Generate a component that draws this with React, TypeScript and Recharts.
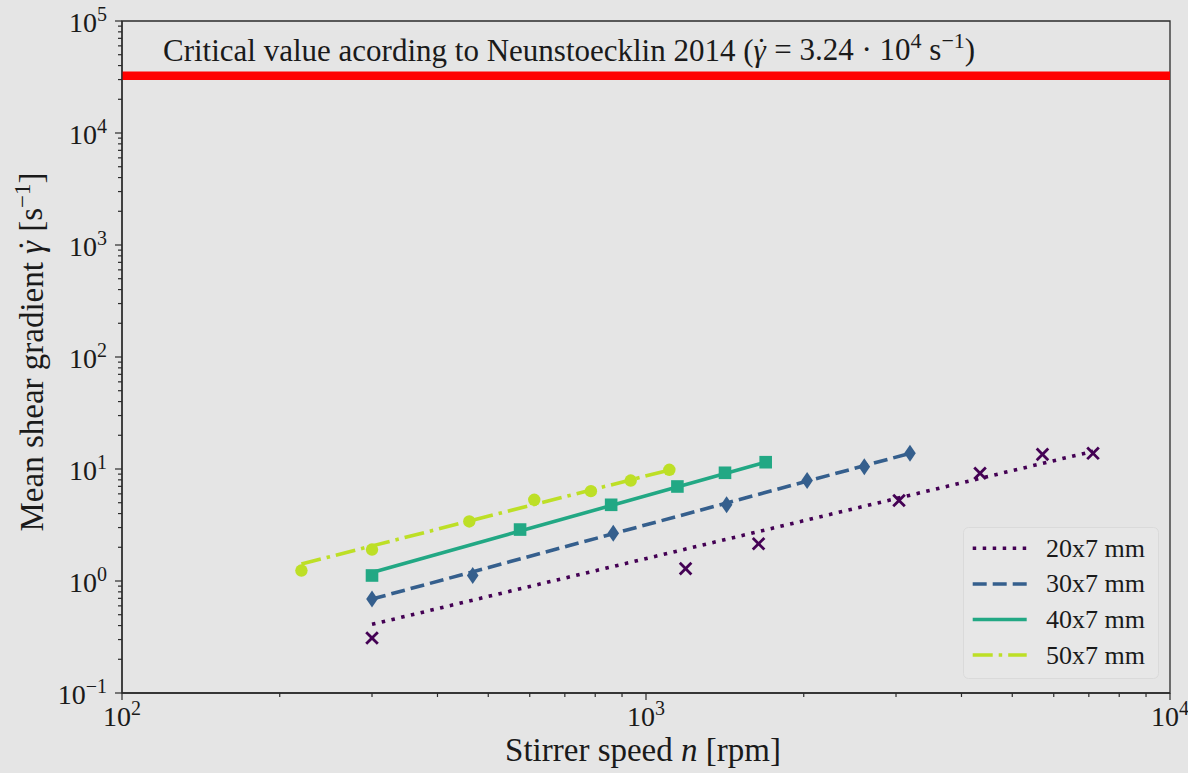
import React from 'react';
import {
  ComposedChart,
  Line,
  Scatter,
  XAxis,
  YAxis,
  ReferenceLine,
  ReferenceArea,
} from 'recharts';

// ---- data ----
const speed20 = [300, 1190, 1640, 3040, 4340, 5710, 7130];
const shear20 = [0.31, 1.29, 2.15, 5.23, 9.17, 13.5, 13.8];
const fitSpeed20 = [300, 7130];
const fitShear20 = [0.41, 14.4];

const speed30 = [300, 467, 866, 1425, 2030, 2610, 3190];
const shear30 = [0.69, 1.12, 2.67, 4.79, 7.89, 10.5, 13.8];
const fitSpeed30 = [300, 3190];
const fitShear30 = [0.69, 13.8];

const speed40 = [300, 575, 858, 1148, 1415, 1692];
const shear40 = [1.12, 2.88, 4.79, 6.98, 9.25, 11.5];
const fitSpeed40 = [300, 1692];
const fitShear40 = [1.19, 11.5];

const speed50 = [220, 300, 460, 612, 785, 935, 1108];
const shear50 = [1.24, 1.91, 3.4, 5.31, 6.34, 7.89, 9.84];
const fitSpeed50 = [220, 1108];
const fitShear50 = [1.42, 9.8];

const criticalShear = 32400;

const seriesNames = ['20x7 mm', '30x7 mm', '40x7 mm', '50x7 mm'];
const seriesColors = ['#440154', '#355f8d', '#22a884', '#bddf26'];

const xTicks = [
  100, 200, 300, 400, 500, 600, 700, 800, 900,
  1000, 2000, 3000, 4000, 5000, 6000, 7000, 8000, 9000, 10000,
];
const yTicks = [
  0.1, 0.2, 0.3, 0.4, 0.5, 0.6, 0.7, 0.8, 0.9,
  1, 2, 3, 4, 5, 6, 7, 8, 9,
  10, 20, 30, 40, 50, 60, 70, 80, 90,
  100, 200, 300, 400, 500, 600, 700, 800, 900,
  1000, 2000, 3000, 4000, 5000, 6000, 7000, 8000, 9000,
  10000, 20000, 30000, 40000, 50000, 60000, 70000, 80000, 90000,
  100000,
];

const zip = (xs: number[], ys: number[]) => xs.map((x, i) => ({ x, y: ys[i] }));

const FONT = '"Liberation Serif", "DejaVu Serif", serif';
const AXIS = '#2b2b2b';
const TXT = '#1a1a1a';
const dashes = ['3.5 6.5', '14 6', undefined, '20 6 3.5 6'];

const expOf = (v: number) => {
  const l = Math.log10(v);
  const e = Math.round(l);
  return { e, major: Math.abs(l - e) < 1e-9 };
};
const expText = (e: number) => (e < 0 ? '\u2212' + Math.abs(e) : String(e));

const TICK_FS = 28;
const SUP_FS = 20;

const XTick = (props: any) => {
  const { x, y, payload } = props;
  const { e, major } = expOf(payload.value);
  return (
    <g>
      <line x1={x} x2={x} y1={y} y2={y + (major ? 7 : 4)} stroke={AXIS} strokeWidth={1.2} />
      {major && (
        <text x={x} y={y + 33} textAnchor="middle" fontFamily={FONT} fontSize={TICK_FS} fill={TXT}>
          10
          <tspan dy={-11} fontSize={SUP_FS}>{expText(e)}</tspan>
        </text>
      )}
    </g>
  );
};

const YTick = (props: any) => {
  const { x, y, payload } = props;
  const { e, major } = expOf(payload.value);
  return (
    <g>
      <line x1={x} x2={x - (major ? 7 : 4)} y1={y} y2={y} stroke={AXIS} strokeWidth={1.2} />
      {major && (
        <text x={x - 15} y={y + 11} textAnchor="end" fontFamily={FONT} fontSize={TICK_FS} fill={TXT}>
          10
          <tspan dy={-11} fontSize={SUP_FS}>{expText(e)}</tspan>
        </text>
      )}
    </g>
  );
};

const XMark = (p: any) => (
  <g stroke={seriesColors[0]} strokeWidth={2.8}>
    <line x1={p.cx - 5.8} y1={p.cy - 5.8} x2={p.cx + 5.8} y2={p.cy + 5.8} />
    <line x1={p.cx - 5.8} y1={p.cy + 5.8} x2={p.cx + 5.8} y2={p.cy - 5.8} />
  </g>
);
const Diamond = (p: any) => (
  <polygon
    points={`${p.cx},${p.cy - 8.5} ${p.cx + 5.8},${p.cy} ${p.cx},${p.cy + 8.5} ${p.cx - 5.8},${p.cy}`}
    fill={seriesColors[1]}
  />
);
const Square = (p: any) => (
  <rect x={p.cx - 6.3} y={p.cy - 6.3} width={12.6} height={12.6} fill={seriesColors[2]} />
);
const Dot = (p: any) => <circle cx={p.cx} cy={p.cy} r={6.2} fill={seriesColors[3]} />;

// italic gamma with a dot above it
const GammaDot = ({ fs }: { fs: number }) => (
  <>
    <tspan fontStyle="italic">{'\u03B3'}</tspan>
    <tspan dx={-0.31 * fs} dy={-0.02 * fs}>{'\u02D9'}</tspan>
    <tspan dy={0.02 * fs}>{''}</tspan>
  </>
);

const CritLabel = (props: any) => {
  const vb = props.viewBox || { x: 0, y: 0 };
  const fs = 31;
  const sfs = 22;
  return (
    <text x={vb.x + 41} y={vb.y - 15} fontFamily={FONT} fontSize={fs} fill={TXT}>
      Critical value acording to Neunstoecklin 2014 (
      <GammaDot fs={fs} />
      <tspan>{'\u00A0=\u00A03.24\u00A0\u00B7\u00A010'}</tspan>
      <tspan dy={-12} fontSize={sfs}>4</tspan>
      <tspan dy={12}>{'\u00A0s'}</tspan>
      <tspan dy={-12} fontSize={sfs}>{'\u22121'}</tspan>
      <tspan dy={12}>)</tspan>
    </text>
  );
};

const YLabel = (props: any) => {
  const vb = props.viewBox || { x: 0, y: 0, width: 0, height: 0 };
  const fs = 33;
  const cx = 43;
  const cy = vb.y + vb.height / 2 - 5;
  return (
    <text
      x={cx}
      y={cy}
      transform={`rotate(-90 ${cx} ${cy})`}
      textAnchor="middle"
      fontFamily={FONT}
      fontSize={fs}
      fill={TXT}
    >
      {'Mean shear gradient\u00A0'}
      <GammaDot fs={fs} />
      <tspan>{'\u00A0[s'}</tspan>
      <tspan dy={-12} fontSize={23}>{'\u22121'}</tspan>
      <tspan dy={12}>]</tspan>
    </text>
  );
};

const XLabel = (props: any) => {
  const vb = props.viewBox || { x: 0, y: 0, width: 0, height: 0 };
  return (
    <text
      x={vb.x + vb.width / 2 - 3}
      y={vb.y + 68}
      textAnchor="middle"
      fontFamily={FONT}
      fontSize={33}
      fill={TXT}
    >
      Stirrer speed <tspan fontStyle="italic">n</tspan> [rpm]
    </text>
  );
};

const LegendBox = () => {
  const rowH = 35.6;
  return (
    <svg width={197} height={153} style={{ display: 'block' }}>
      <rect x={0.5} y={0.5} width={195} height={151} rx={5} ry={5} fill="#e7e7e7" stroke="#dadada" strokeWidth={1} />
      {seriesNames.map((name, i) => {
        const y = 21.3 + i * rowH;
        return (
          <g key={name}>
            <line
              x1={9.7}
              x2={63.7}
              y1={y}
              y2={y}
              stroke={seriesColors[i]}
              strokeWidth={3.5}
              strokeDasharray={dashes[i]}
            />
            <text x={83} y={y + 8.5} fontFamily={FONT} fontSize={26} fill={TXT}>
              {name}
            </text>
          </g>
        );
      })}
    </svg>
  );
};

export default function App() {
  const scatters = [
    { data: zip(speed20, shear20), shape: XMark },
    { data: zip(speed30, shear30), shape: Diamond },
    { data: zip(speed40, shear40), shape: Square },
    { data: zip(speed50, shear50), shape: Dot },
  ];
  const fits = [
    zip(fitSpeed20, fitShear20),
    zip(fitSpeed30, fitShear30),
    zip(fitSpeed40, fitShear40),
    zip(fitSpeed50, fitShear50),
  ];
  return (
    <div
      style={{
        position: 'fixed',
        left: 0,
        top: 0,
        width: 1188,
        height: 773,
        background: '#e5e5e5',
      }}
    >
      <ComposedChart width={1188} height={773} margin={{ top: 21, right: 18, left: 0, bottom: 0 }}>
        <XAxis
          type="number"
          dataKey="x"
          scale="log"
          domain={[100, 10000]}
          ticks={xTicks}
          interval={0}
          allowDataOverflow
          height={80}
          tickSize={0}
          tickMargin={0}
          tickLine={false}
          axisLine={{ stroke: AXIS, strokeWidth: 1.3 }}
          tick={<XTick />}
          label={(p: any) => <XLabel {...p} />}
        />
        <YAxis
          type="number"
          dataKey="y"
          scale="log"
          domain={[0.1, 100000]}
          ticks={yTicks}
          interval={0}
          allowDataOverflow
          width={122}
          tickSize={0}
          tickMargin={0}
          tickLine={false}
          axisLine={{ stroke: AXIS, strokeWidth: 1.3 }}
          tick={<YTick />}
          label={(p: any) => <YLabel {...p} />}
        />
        <ReferenceArea
          x1={100}
          x2={10000}
          y1={0.1}
          y2={100000}
          fill="none"
          fillOpacity={0}
          stroke={AXIS}
          strokeWidth={1.3}
          ifOverflow="visible"
        />
        <ReferenceLine
          y={criticalShear}
          stroke="#ff0000"
          strokeWidth={8.5}
          ifOverflow="visible"
          label={(p: any) => <CritLabel {...p} />}
        />
        {fits.map((d, i) => (
          <Line
            key={'fit' + i}
            data={d}
            dataKey="y"
            type="linear"
            stroke={seriesColors[i]}
            strokeWidth={3.6}
            strokeDasharray={dashes[i]}
            dot={false}
            activeDot={false}
            isAnimationActive={false}
            legendType="none"
          />
        ))}
        {scatters.map((s, i) => (
          <Scatter
            key={'sc' + i}
            data={s.data}
            dataKey="y"
            shape={s.shape}
            isAnimationActive={false}
            legendType="none"
          />
        ))}
      </ComposedChart>
      <div style={{ position: 'absolute', left: 963, top: 527 }}>
        <LegendBox />
      </div>
    </div>
  );
}
